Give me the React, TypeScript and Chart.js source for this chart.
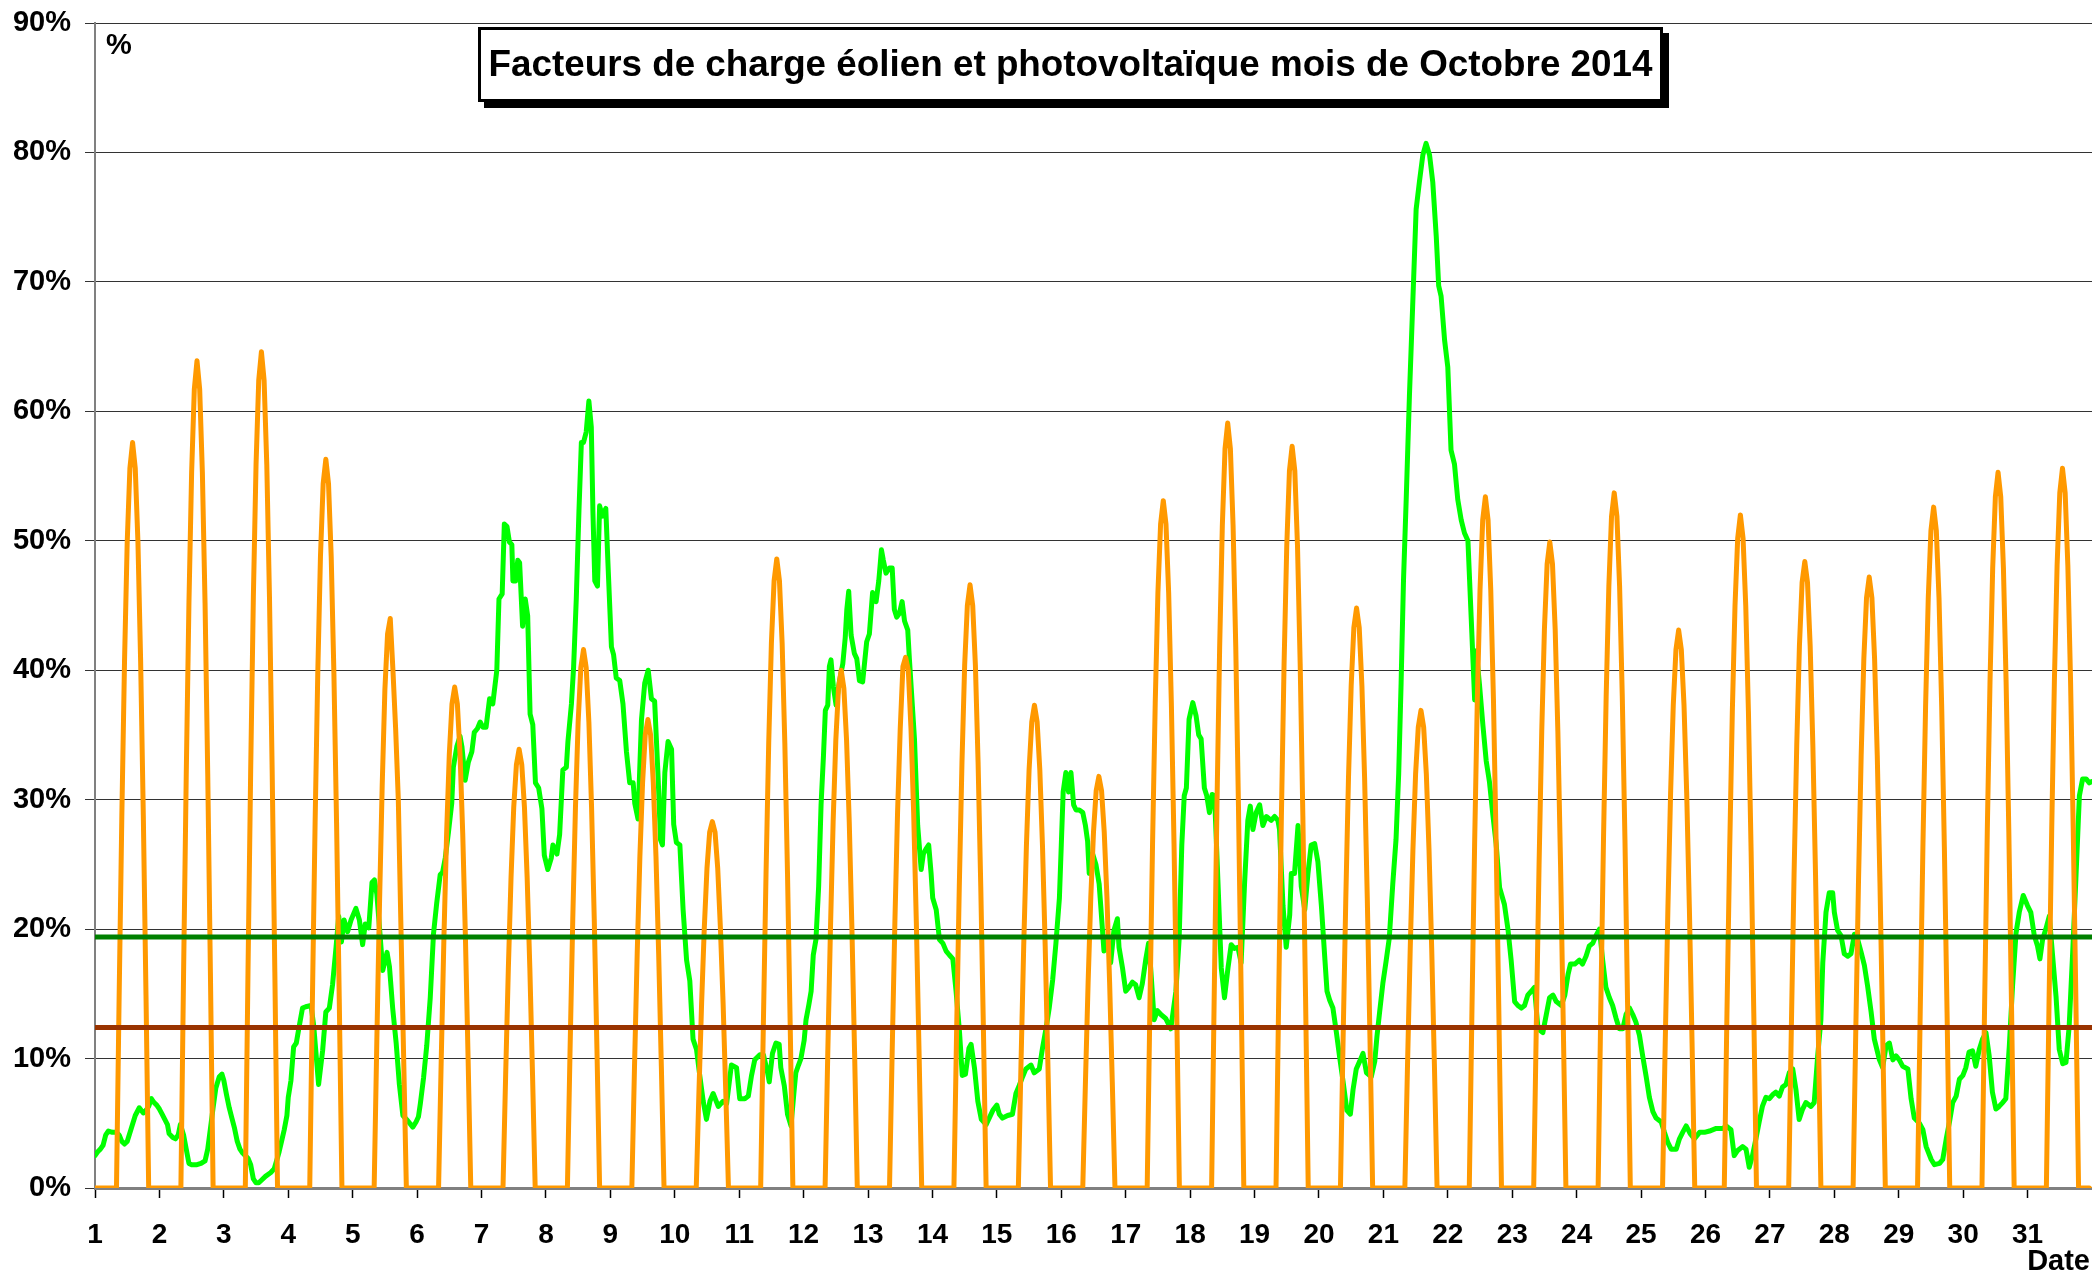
import React, { useEffect, useRef } from "react";
import { Chart, registerables } from "chart.js";

Chart.register(...registerables);

const chartTitle = "Facteurs de charge éolien et photovoltaïque mois de Octobre 2014";
const yUnitLabel = "%";
const xAxisLabel = "Date";

const dayTicks = [1, 2, 3, 4, 5, 6, 7, 8, 9, 10, 11, 12, 13, 14, 15, 16, 17, 18, 19, 20, 21, 22, 23, 24, 25, 26, 27, 28, 29, 30, 31];
const percentTicks = [0, 10, 20, 30, 40, 50, 60, 70, 80, 90];

// monthly mean load factors (%)
const windAverage = 19.4;
const solarAverage = 12.4;

// last hour with zero solar output before the morning ramp, per day
const solarZeroHour = [8, 8, 8, 8, 8, 8, 8, 8, 8, 8, 8, 8, 8, 8, 8, 8, 8, 8, 8, 8, 8, 8, 8, 8, 8, 7, 7, 7, 7, 7, 7];

// hourly solar load factor (%) for the 11 daylight hours after solarZeroHour
const solarDaylight: number[][] = [
  [14.9, 28.8, 40.7, 49.9, 55.6, 57.6, 55.6, 49.9, 40.7, 28.8, 14.9],
  [16.6, 32.0, 45.2, 55.3, 61.7, 63.9, 61.7, 55.3, 45.2, 32.0, 16.6],
  [16.7, 32.3, 45.7, 55.9, 62.4, 64.6, 62.4, 55.9, 45.7, 32.3, 16.7],
  [14.6, 28.2, 39.8, 48.8, 54.4, 56.3, 54.4, 48.8, 39.8, 28.2, 14.6],
  [11.4, 22.0, 31.1, 38.5, 42.8, 44.0, 40.0, 35.5, 30.0, 20.0, 10.0],
  [10.0, 19.4, 27.4, 33.5, 37.4, 38.7, 37.4, 33.5, 27.4, 19.4, 10.0],
  [8.8, 17.0, 24.0, 29.4, 32.7, 33.9, 32.7, 29.4, 24.0, 17.0, 8.8],
  [10.8, 20.8, 29.4, 36.0, 40.2, 41.6, 40.2, 36.0, 29.4, 20.8, 10.8],
  [9.4, 18.1, 25.6, 31.3, 35.0, 36.2, 35.0, 31.3, 25.6, 18.1, 9.4],
  [7.4, 14.3, 20.1, 24.7, 27.5, 28.3, 27.5, 24.7, 20.1, 14.3, 7.4],
  [12.6, 24.3, 34.4, 42.1, 46.9, 48.6, 46.9, 42.1, 34.4, 24.3, 12.6],
  [10.4, 20.0, 28.3, 34.6, 38.6, 40.0, 38.6, 34.6, 28.3, 20.0, 10.4],
  [10.6, 20.5, 29.0, 35.5, 40.3, 41.0, 40.0, 35.5, 29.0, 20.5, 10.6],
  [12.1, 23.3, 32.9, 40.4, 45.0, 46.6, 45.0, 40.4, 32.9, 23.3, 12.1],
  [9.7, 18.7, 26.4, 32.3, 36.0, 37.3, 36.0, 32.3, 26.4, 18.7, 9.7],
  [8.2, 15.9, 22.5, 27.5, 30.7, 31.8, 30.7, 27.5, 22.5, 15.9, 8.2],
  [13.8, 26.6, 37.5, 46.0, 51.3, 53.1, 51.3, 46.0, 37.5, 26.6, 13.8],
  [15.3, 29.6, 41.8, 51.2, 57.1, 59.1, 57.1, 51.2, 41.8, 29.6, 15.3],
  [14.8, 28.7, 40.5, 49.6, 55.4, 57.3, 55.4, 49.6, 40.5, 28.7, 14.8],
  [11.6, 22.4, 31.7, 38.8, 43.3, 44.8, 43.3, 38.8, 31.7, 22.4, 11.6],
  [9.6, 18.5, 26.1, 32.0, 35.6, 36.9, 35.6, 32.0, 26.1, 18.5, 9.6],
  [13.8, 26.7, 37.8, 46.2, 51.6, 53.4, 51.6, 46.2, 37.8, 26.7, 13.8],
  [12.9, 25.0, 35.3, 43.2, 48.2, 49.9, 48.2, 43.2, 35.3, 25.0, 12.9],
  [13.9, 26.9, 38.0, 46.5, 51.9, 53.7, 51.9, 46.5, 38.0, 26.9, 13.9],
  [11.2, 21.6, 30.5, 37.3, 41.6, 43.1, 41.6, 37.3, 30.5, 21.6, 11.2],
  [13.5, 26.0, 36.8, 45.0, 50.2, 52.0, 50.2, 45.0, 36.8, 26.0, 13.5],
  [12.5, 24.2, 34.2, 41.9, 46.8, 48.4, 46.8, 41.9, 34.2, 24.2, 12.5],
  [12.2, 23.6, 33.4, 40.9, 45.6, 47.2, 45.6, 40.9, 33.4, 23.6, 12.2],
  [13.6, 26.3, 37.2, 45.6, 50.8, 52.6, 50.8, 45.6, 37.2, 26.3, 13.6],
  [14.3, 27.7, 39.1, 47.9, 53.4, 55.3, 53.4, 47.9, 39.1, 27.7, 14.3],
  [14.4, 27.8, 39.3, 48.1, 53.7, 55.6, 53.7, 48.1, 39.3, 27.8, 14.4],
];

// wind load factor readings: [day, hour of day, %]
const windSamples: [number, number, number][] = [
  [1, 0, 2.5], [1, 1, 2.8], [1, 2, 3.0], [1, 3, 3.3], [1, 4, 4.1], [1, 5, 4.4], [1, 6.5, 4.3], [1, 8, 4.3], [1, 9, 4.1], [1, 10, 3.6], [1, 11, 3.4], [1, 12, 3.6], [1, 13.5, 4.6], [1, 15, 5.6], [1, 16.5, 6.2], [1, 18, 5.8], [1, 19, 6.0], [1, 20, 6.3], [1, 21, 6.9], [1, 22, 6.6], [1, 23, 6.4],
  [2, 0, 6.1], [2, 1, 5.7], [2, 2, 5.3], [2, 3, 4.9], [2, 3.6, 4.2], [2, 5, 3.9], [2, 6, 3.8], [2, 7, 4.1], [2, 7.8, 4.9], [2, 9, 4.1], [2, 10, 3.0], [2, 11, 1.9], [2, 12, 1.8], [2, 14, 1.8], [2, 15.5, 1.9], [2, 17, 2.1], [2, 18, 3.0], [2, 19, 4.6], [2, 20, 6.2], [2, 21, 7.7], [2, 22.3, 8.6], [2, 23.3, 8.8],
  [3, 0, 8.3], [3, 1, 7.2], [3, 2, 6.2], [3, 3, 5.4], [3, 4, 4.6], [3, 5, 3.6], [3, 6, 3.0], [3, 7, 2.7], [3, 8, 2.5], [3, 9, 2.3], [3, 10, 1.8], [3, 11, 0.7], [3, 12, 0.4], [3, 13, 0.4], [3, 14, 0.6], [3, 15.5, 0.9], [3, 17.5, 1.2], [3, 18.8, 1.5], [3, 19.8, 2.2], [3, 20.6, 2.8], [3, 21.5, 3.6], [3, 22.5, 4.5], [3, 23.5, 5.6],
  [4, 0, 7.0], [4, 1, 8.3], [4, 2, 10.9], [4, 3, 11.2], [4, 4, 12.4], [4, 5.3, 13.9], [4, 6.5, 14.0], [4, 8.5, 14.1], [4, 9.5, 12.5], [4, 10.3, 10.5], [4, 11.3, 8.0], [4, 12.8, 10.6], [4, 14, 13.6], [4, 15.3, 13.9], [4, 16.5, 15.7], [4, 17.8, 18.6], [4, 18.8, 21.0], [4, 19.8, 19.0], [4, 20.8, 20.7], [4, 22.1, 19.8], [4, 23.4, 20.7],
  [5, 1.2, 21.6], [5, 2.5, 20.7], [5, 3.7, 18.8], [5, 4.7, 20.4], [5, 6, 20.1], [5, 7.2, 23.6], [5, 8.1, 23.8], [5, 9, 22.7], [5, 10, 20.1], [5, 11.2, 16.8], [5, 12.8, 18.2], [5, 13.7, 17.1], [5, 14.9, 13.9], [5, 16.2, 11.2], [5, 17.4, 8.0], [5, 18.7, 5.6], [5, 20.5, 5.2], [5, 22.4, 4.7], [5, 23.6, 5.1],
  [6, 0.5, 5.5], [6, 1.2, 6.5], [6, 2.4, 8.5], [6, 3.6, 11.0], [6, 4.9, 14.7], [6, 6.1, 19.6], [6, 7.3, 22.0], [6, 8.6, 24.2], [6, 9.5, 24.4], [6, 10.5, 25.5], [6, 11.7, 27.5], [6, 12.9, 29.7], [6, 13.5, 32.5], [6, 14.8, 34.1], [6, 16, 34.9], [6, 16.7, 34.1], [6, 17.9, 31.5], [6, 19.1, 32.9], [6, 20.4, 33.7], [6, 21.3, 35.2], [6, 22.5, 35.5], [6, 23.5, 36.0],
  [7, 0.5, 35.6], [7, 1.7, 35.6], [7, 3, 37.8], [7, 4.2, 37.4], [7, 5.7, 40.0], [7, 6.5, 45.5], [7, 7.7, 45.9], [7, 8.5, 51.3], [7, 9.5, 51.1], [7, 10.4, 49.9], [7, 11.3, 49.7], [7, 11.7, 46.9], [7, 12.7, 46.9], [7, 13.5, 48.5], [7, 14.2, 48.3], [7, 15.3, 43.4], [7, 16.3, 45.5], [7, 17.2, 44.2], [7, 18.1, 36.6], [7, 19.1, 35.8], [7, 20.1, 31.3], [7, 21.3, 30.9], [7, 22.5, 29.3], [7, 23.4, 25.7],
  [8, 0.7, 24.6], [8, 2, 25.5], [8, 2.6, 26.5], [8, 4.1, 25.8], [8, 5.1, 27.3], [8, 6.3, 32.3], [8, 7.6, 32.5], [8, 8.2, 34.5], [8, 9.5, 37.4], [8, 10.3, 40.2], [8, 11.3, 45.5], [8, 12.3, 52.3], [8, 13.2, 57.6], [8, 14, 57.6], [8, 15, 58.4], [8, 16, 60.8], [8, 16.9, 58.8], [8, 17.5, 52.3], [8, 18.2, 46.9], [8, 19.2, 46.5], [8, 20, 52.7], [8, 21, 51.9], [8, 22.3, 52.5], [8, 23.1, 48.3],
  [9, 0.4, 41.8], [9, 1.2, 41.2], [9, 2.2, 39.4], [9, 3.5, 39.2], [9, 4.7, 37.4], [9, 6, 33.7], [9, 7.2, 31.3], [9, 8.5, 31.3], [9, 9.1, 29.7], [9, 10.3, 28.5], [9, 11.6, 36.2], [9, 12.8, 39.0], [9, 14.1, 40.0], [9, 15.3, 37.8], [9, 16.5, 37.6], [9, 17.8, 31.7], [9, 18.7, 26.9], [9, 19.4, 26.5], [9, 20.3, 32.1], [9, 21.5, 34.5], [9, 22.8, 33.9], [9, 23.6, 28.1],
  [10, 0.6, 26.7], [10, 1.9, 26.5], [10, 3.1, 21.5], [10, 4.4, 17.6], [10, 5.6, 16.0], [10, 6.8, 11.5], [10, 8.1, 10.7], [10, 9.3, 8.7], [10, 10.6, 6.7], [10, 11.8, 5.3], [10, 13.1, 6.7], [10, 14.3, 7.3], [10, 16.2, 6.3], [10, 18, 6.7], [10, 19.3, 6.5], [10, 21.1, 9.5], [10, 23, 9.3],
  [11, 0.2, 6.9], [11, 2.1, 6.9], [11, 3.4, 7.1], [11, 4.6, 8.7], [11, 5.8, 9.9], [11, 7.7, 10.3], [11, 9, 10.3], [11, 10.5, 9.0], [11, 11.2, 8.2], [11, 12.4, 10.4], [11, 13.7, 11.2], [11, 14.9, 11.1], [11, 15.5, 9.3], [11, 16.8, 7.9], [11, 18, 5.7], [11, 19.3, 4.8], [11, 20.5, 7.6], [11, 21.1, 8.9], [11, 22.1, 9.5], [11, 23, 10.0],
  [12, 0.2, 11.4], [12, 0.9, 13.0], [12, 1.9, 14.1], [12, 2.8, 15.2], [12, 3.6, 18.0], [12, 4.6, 19.2], [12, 5.6, 23.3], [12, 6.5, 29.6], [12, 7.4, 33.4], [12, 8.1, 36.9], [12, 9, 37.3], [12, 9.6, 40.3], [12, 10.2, 40.8], [12, 11.1, 38.7], [12, 12.1, 37.3], [12, 13.3, 39.1], [12, 14.6, 40.5], [12, 15.5, 42.5], [12, 16.1, 44.7], [12, 16.8, 46.1], [12, 17.7, 42.7], [12, 18.9, 41.3], [12, 19.8, 40.9], [12, 20.8, 39.2], [12, 22, 39.1], [12, 23.5, 42.2],
  [13, 0.5, 42.8], [13, 1.7, 46.0], [13, 3, 45.3], [13, 4, 46.9], [13, 5, 49.3], [13, 5.7, 48.5], [13, 6.7, 47.5], [13, 8, 47.9], [13, 9, 47.9], [13, 9.8, 44.7], [13, 10.7, 44.1], [13, 11.7, 44.4], [13, 12.7, 45.3], [13, 13.6, 43.8], [13, 14.8, 43.1], [13, 15.4, 40.9], [13, 17.3, 34.7], [13, 18.5, 28.0], [13, 19.8, 24.6], [13, 20.6, 25.8], [13, 21.6, 26.2], [13, 22.6, 26.5], [13, 23.5, 24.3],
  [14, 0.1, 22.4], [14, 1.4, 21.5], [14, 2.6, 19.2], [14, 3.9, 18.9], [14, 5.1, 18.3], [14, 6.3, 18.0], [14, 7.6, 17.7], [14, 8.8, 15.2], [14, 10.1, 12.0], [14, 11.1, 8.7], [14, 12.3, 8.8], [14, 13.6, 10.8], [14, 14.4, 11.1], [14, 15.7, 9.2], [14, 16.9, 6.7], [14, 18.2, 5.3], [14, 20, 4.9], [14, 22.5, 6.0],
  [15, 0, 6.4], [15, 0.9, 5.7], [15, 2.1, 5.4], [15, 4, 5.6], [15, 5.8, 5.7], [15, 7.1, 7.3], [15, 8.3, 7.9], [15, 9.6, 8.6], [15, 10.8, 9.2], [15, 12.7, 9.5], [15, 13.9, 8.9], [15, 15.8, 9.2], [15, 17, 10.8], [15, 18.3, 12.3], [15, 19.5, 13.9], [15, 20.8, 16.1], [15, 22, 18.9], [15, 23.3, 22.4],
  [16, 0, 26.5], [16, 0.7, 30.6], [16, 1.7, 32.1], [16, 2.7, 30.6], [16, 3.6, 32.1], [16, 4.6, 29.6], [16, 5.5, 29.2], [16, 6.7, 29.2], [16, 8, 29.0], [16, 9, 28.0], [16, 9.8, 26.8], [16, 10.4, 24.3], [16, 11.7, 25.8], [16, 12.9, 25.0], [16, 14.1, 23.5], [16, 14.7, 21.8], [16, 15.9, 18.3], [16, 17.2, 19.2], [16, 18.4, 17.4], [16, 19.6, 19.9], [16, 20.9, 20.8], [16, 21.5, 18.6], [16, 22.8, 17.0],
  [17, 0, 15.2], [17, 1.2, 15.5], [17, 2.5, 15.9], [17, 3.7, 15.7], [17, 5, 14.7], [17, 6.2, 15.8], [17, 7.5, 17.7], [17, 8.5, 18.9], [17, 9.3, 17.0], [17, 10.6, 13.0], [17, 11.8, 13.7], [17, 13.1, 13.4], [17, 14.9, 13.1], [17, 16.8, 12.3], [17, 18.7, 15.2], [17, 19.9, 19.2], [17, 20.9, 26.5], [17, 21.8, 30.3], [17, 22.6, 30.9], [17, 23.6, 36.2],
  [18, 1, 37.5], [18, 2.2, 36.5], [18, 3.2, 35.0], [18, 4.1, 34.7], [18, 5.3, 30.9], [18, 6.2, 30.3], [18, 7.2, 29.0], [18, 8.2, 30.4], [18, 9.1, 30.3], [18, 10.3, 24.0], [18, 11.6, 17.0], [18, 12.8, 14.7], [18, 14.1, 17.0], [18, 15.3, 18.8], [18, 16.5, 18.5], [18, 17.8, 18.6], [18, 19, 17.4], [18, 20.3, 23.6], [18, 21.5, 28.4], [18, 22.4, 29.5], [18, 23.4, 27.7],
  [19, 0.6, 29.0], [19, 1.9, 29.6], [19, 3.1, 28.0], [19, 4.4, 28.7], [19, 6.2, 28.4], [19, 7.5, 28.7], [19, 8.7, 28.4], [19, 9.3, 27.7], [19, 10.6, 21.8], [19, 11.8, 18.6], [19, 13.1, 21.1], [19, 13.7, 24.3], [19, 14.9, 24.3], [19, 16.2, 28.0], [19, 17.4, 23.3], [19, 18.7, 21.5], [19, 19.9, 24.3], [19, 21.1, 26.5], [19, 22.4, 26.6], [19, 23.6, 25.2],
  [20, 0.9, 21.8], [20, 2.1, 18.0], [20, 3, 15.2], [20, 4, 14.5], [20, 5.2, 13.9], [20, 6.5, 12.0], [20, 7.7, 10.1], [20, 9, 8.2], [20, 10.4, 6.0], [20, 11.7, 5.7], [20, 12.7, 7.6], [20, 13.9, 9.2], [20, 15.2, 9.8], [20, 16.4, 10.4], [20, 17.7, 8.9], [20, 19.5, 8.6], [20, 20.8, 9.8], [20, 21.6, 11.7], [20, 22.6, 13.6], [20, 23.8, 15.8],
  [21, 1, 17.5], [21, 2.2, 19.3], [21, 3.5, 23.5], [21, 4.7, 26.9], [21, 5.7, 32.0], [21, 6.6, 39.0], [21, 7.5, 47.0], [21, 8.5, 53.2], [21, 9.7, 61.2], [21, 10.9, 68.1], [21, 12.2, 75.6], [21, 13.4, 77.7], [21, 14.7, 79.8], [21, 15.9, 80.7], [21, 17.2, 79.8], [21, 18.4, 77.7], [21, 19.7, 73.5], [21, 20.6, 69.7], [21, 21.5, 68.9], [21, 22.8, 65.5],
  [22, 0, 63.4], [22, 1.2, 57.0], [22, 2.5, 55.9], [22, 3.7, 53.2], [22, 5, 51.6], [22, 6.2, 50.6], [22, 7.5, 50.0], [22, 8.7, 44.1], [22, 10, 37.7], [22, 10.6, 41.5], [22, 11.8, 38.9], [22, 13.1, 35.7], [22, 14.3, 33.0], [22, 15.5, 31.4], [22, 16.8, 28.8], [22, 18, 26.6], [22, 19.3, 23.2], [22, 21.1, 21.9], [22, 22.4, 20.0], [22, 23.6, 17.6],
  [23, 0.9, 14.4], [23, 2.1, 14.1], [23, 3.4, 13.9], [23, 4.6, 14.1], [23, 5.8, 14.9], [23, 7.1, 15.2], [23, 8.3, 15.5], [23, 9.6, 12.3], [23, 11.4, 12.0], [23, 12.7, 13.4], [23, 13.9, 14.7], [23, 15.2, 14.9], [23, 16.4, 14.4], [23, 18.3, 14.1], [23, 19.6, 14.9], [23, 20.8, 16.5], [23, 21.7, 17.3], [23, 23.3, 17.3],
  [24, 1, 17.6], [24, 2.2, 17.3], [24, 3.5, 17.9], [24, 4.7, 18.7], [24, 6, 18.9], [24, 7.2, 19.5], [24, 8.5, 20.0], [24, 9.7, 17.6], [24, 10.9, 15.5], [24, 12.2, 14.7], [24, 13.4, 14.1], [24, 14.7, 13.1], [24, 15.9, 12.3], [24, 17.2, 12.3], [24, 18.4, 13.4], [24, 19.7, 13.9], [24, 20.9, 13.4], [24, 22.1, 12.8], [24, 23.4, 11.8],
  [25, 0.6, 10.2], [25, 1.9, 8.6], [25, 3.1, 7.0], [25, 4.4, 5.9], [25, 5.6, 5.4], [25, 7.5, 5.1], [25, 8.7, 4.3], [25, 10, 3.5], [25, 11.2, 3.0], [25, 13.1, 3.0], [25, 14.3, 3.8], [25, 15.5, 4.3], [25, 16.8, 4.8], [25, 18.3, 4.2], [25, 19.9, 3.8], [25, 21.8, 4.3], [25, 23.6, 4.3],
  [26, 1.5, 4.4], [26, 4, 4.6], [26, 6.5, 4.6], [26, 7.7, 4.8], [26, 9.5, 4.5], [26, 10.7, 2.5], [26, 12, 2.9], [26, 13.8, 3.2], [26, 15.1, 3.0], [26, 16.3, 1.6], [26, 17.5, 2.5], [26, 18.8, 3.8], [26, 20, 5.1], [26, 21.2, 6.3], [26, 22.5, 7.0], [26, 23.8, 6.9],
  [27, 1, 7.2], [27, 2.2, 7.4], [27, 3.5, 7.1], [27, 4.7, 7.8], [27, 6, 8.0], [27, 7.2, 8.9], [27, 8.5, 9.2], [27, 9.7, 7.6], [27, 10.9, 5.3], [27, 12.2, 6.1], [27, 13.4, 6.6], [27, 15.3, 6.3], [27, 16.5, 6.6], [27, 17.8, 10.2], [27, 19, 13.0], [27, 19.7, 17.4], [27, 20.9, 21.3], [27, 22.1, 22.8], [27, 23.4, 22.8],
  [28, 0, 21.3], [28, 1.2, 19.9], [28, 2.5, 19.5], [28, 3.7, 18.1], [28, 5, 17.9], [28, 6.2, 18.1], [28, 7.5, 19.6], [28, 8.7, 19.2], [28, 10, 18.2], [28, 11.2, 17.2], [28, 12.4, 15.6], [28, 13.7, 13.6], [28, 14.9, 11.5], [28, 16.8, 9.9], [28, 18, 9.3], [28, 19.3, 11.0], [28, 20.5, 11.2], [28, 21.8, 9.9], [28, 23, 10.2],
  [29, 0.2, 9.9], [29, 1.5, 9.4], [29, 3.4, 9.2], [29, 4.6, 6.9], [29, 5.8, 5.4], [29, 7.7, 5.0], [29, 9, 4.5], [29, 10.2, 3.2], [29, 12.1, 2.2], [29, 13.3, 1.8], [29, 15.2, 1.9], [29, 16.4, 2.2], [29, 17.7, 3.8], [29, 18.9, 5.1], [29, 20.1, 6.6], [29, 21.4, 7.1], [29, 22.6, 8.4], [29, 23.9, 8.7],
  [30, 1, 9.3], [30, 2.2, 10.5], [30, 3.5, 10.6], [30, 4.7, 9.4], [30, 6, 10.7], [30, 7.2, 11.5], [30, 8.5, 12.0], [30, 9.7, 10.2], [30, 10.9, 7.4], [30, 12.2, 6.1], [30, 13.4, 6.3], [30, 14.7, 6.6], [30, 15.9, 6.9], [30, 17.2, 11.0], [30, 18.4, 15.6], [30, 19.7, 19.7], [30, 20.9, 21.3], [30, 22.4, 22.6],
  [31, 0, 21.8], [31, 1.2, 21.3], [31, 2.5, 19.5], [31, 3.7, 18.7], [31, 4.6, 17.7], [31, 5.6, 19.2], [31, 6.8, 20.0], [31, 8.1, 21.0], [31, 9.3, 18.0], [31, 10.6, 14.8], [31, 11.8, 10.7], [31, 13.1, 9.6], [31, 14.3, 9.7], [31, 15.5, 12.5], [31, 16.8, 18.2], [31, 18, 23.9], [31, 19.3, 30.3], [31, 20.5, 31.6], [31, 21.8, 31.6], [31, 23, 31.3], [31, 23.9, 31.4],
];

const FONT_FAMILY = '"Liberation Sans", Arial, Helvetica, sans-serif';
const X_MIN = 1;
const X_MAX = 32;

function buildSolarPoints() {
  const pts: { x: number; y: number }[] = [];
  for (let d = 1; d <= 31; d++) {
    const zero = solarZeroHour[d - 1];
    const vals = solarDaylight[d - 1];
    for (let h = 0; h < 24; h++) {
      const i = h - zero - 1;
      const v = i >= 0 && i < vals.length ? vals[i] : 0;
      pts.push({ x: d + h / 24, y: v });
    }
  }
  return pts;
}

function buildWindPoints() {
  return windSamples.map(([d, h, v]) => ({ x: d + h / 24, y: v }));
}

const decorations = {
  id: "decorations",
  afterDraw(chart: any) {
    const ctx = chart.ctx as CanvasRenderingContext2D;
    const area = chart.chartArea;
    ctx.save();
    ctx.fillStyle = "#000";
    ctx.font = `bold 29px ${FONT_FAMILY}`;
    ctx.textBaseline = "middle";
    ctx.textAlign = "left";
    ctx.fillText(yUnitLabel, area.left + 11, area.top + 23);
    ctx.textAlign = "right";
    ctx.fillText(xAxisLabel, chart.width - 2, chart.height - 14);

    // title box with shadow
    const bx = 478;
    const by = 27;
    const bw = 1185;
    const bh = 75;
    ctx.fillStyle = "#000";
    ctx.fillRect(bx + 6, by + 6, bw, bh);
    ctx.fillStyle = "#fff";
    ctx.fillRect(bx, by, bw, bh);
    ctx.strokeStyle = "#000";
    ctx.lineWidth = 3;
    ctx.strokeRect(bx + 1.5, by + 1.5, bw - 3, bh - 3);

    ctx.font = `bold 37px ${FONT_FAMILY}`;
    ctx.fillStyle = "#000";
    ctx.textAlign = "center";
    ctx.textBaseline = "middle";
    const target = 1164;
    const measured = ctx.measureText(chartTitle).width;
    let sx = target / measured;
    if (sx > 1.15) sx = 1.15;
    if (sx < 0.8) sx = 0.8;
    ctx.translate(bx + bw / 2, by + bh / 2 + 1);
    ctx.scale(sx, 1);
    ctx.fillText(chartTitle, 0, 0);
    ctx.restore();
  },
};

export default function App() {
  const canvasRef = useRef<HTMLCanvasElement | null>(null);

  useEffect(() => {
    const canvas = canvasRef.current;
    if (!canvas) return;
    const xTickFont = { family: FONT_FAMILY, size: 28, weight: "bold" as const };
    const yTickFont = { family: FONT_FAMILY, size: 29, weight: "bold" as const };

    const chart = new Chart(canvas, {
      type: "line",
      data: {
        datasets: [
          {
            label: "Moyenne éolien",
            data: [
              { x: X_MIN, y: windAverage },
              { x: X_MAX, y: windAverage },
            ],
            borderColor: "#008000",
            borderWidth: 5,
            pointRadius: 0,
            tension: 0,
          },
          {
            label: "Moyenne photovoltaïque",
            data: [
              { x: X_MIN, y: solarAverage },
              { x: X_MAX, y: solarAverage },
            ],
            borderColor: "#993300",
            borderWidth: 5,
            pointRadius: 0,
            tension: 0,
          },
          {
            label: "Photovoltaïque",
            data: buildSolarPoints(),
            borderColor: "#FF9900",
            borderWidth: 5,
            pointRadius: 0,
            tension: 0,
            borderJoinStyle: "round",
            borderCapStyle: "round",
          },
          {
            label: "Éolien",
            data: buildWindPoints(),
            borderColor: "#00FF00",
            borderWidth: 5,
            pointRadius: 0,
            tension: 0,
            borderJoinStyle: "round",
            borderCapStyle: "round",
          },
        ],
      },
      options: {
        responsive: false,
        animation: false,
        devicePixelRatio: 1,
        layout: { padding: { top: 23, right: 0, bottom: 0, left: 0 } },
        plugins: {
          legend: { display: false },
          tooltip: { enabled: false },
          title: { display: false },
        },
        scales: {
          x: {
            type: "linear",
            min: X_MIN,
            max: X_MAX,
            afterBuildTicks: (axis: any) => {
              axis.ticks = dayTicks.map((v) => ({ value: v }));
            },
            afterFit: (s: any) => {
              s.height = 88;
              s.paddingLeft = 0;
              s.paddingRight = 0;
            },
            ticks: {
              autoSkip: false,
              maxRotation: 0,
              minRotation: 0,
              padding: 20,
              color: "#000",
              font: xTickFont,
              callback: (v: any) => String(v),
            },
            grid: {
              drawOnChartArea: false,
              drawTicks: true,
              tickLength: 10,
              tickColor: "#000",
              tickWidth: 1.5,
            },
            border: { display: true, color: "#808080", width: 3 },
          },
          y: {
            type: "linear",
            min: 0,
            max: 90,
            afterBuildTicks: (axis: any) => {
              axis.ticks = percentTicks.map((v) => ({ value: v }));
            },
            afterFit: (s: any) => {
              s.width = 95;
              s.paddingTop = 0;
              s.paddingBottom = 0;
            },
            ticks: {
              padding: 14,
              color: "#000",
              font: yTickFont,
              callback: (v: any) => `${v}%`,
            },
            grid: {
              color: "#333333",
              lineWidth: 1,
              drawTicks: true,
              tickLength: 10,
              tickColor: "#333333",
            },
            border: { display: true, color: "#808080", width: 2 },
          },
        },
      },
      plugins: [decorations],
    });

    return () => {
      chart.destroy();
    };
  }, []);

  return (
    <div style={{ position: "fixed", left: 0, top: 0, width: 2092, height: 1276, background: "#fff" }}>
      <canvas ref={canvasRef} width={2092} height={1276} style={{ display: "block", width: 2092, height: 1276 }} />
    </div>
  );
}
